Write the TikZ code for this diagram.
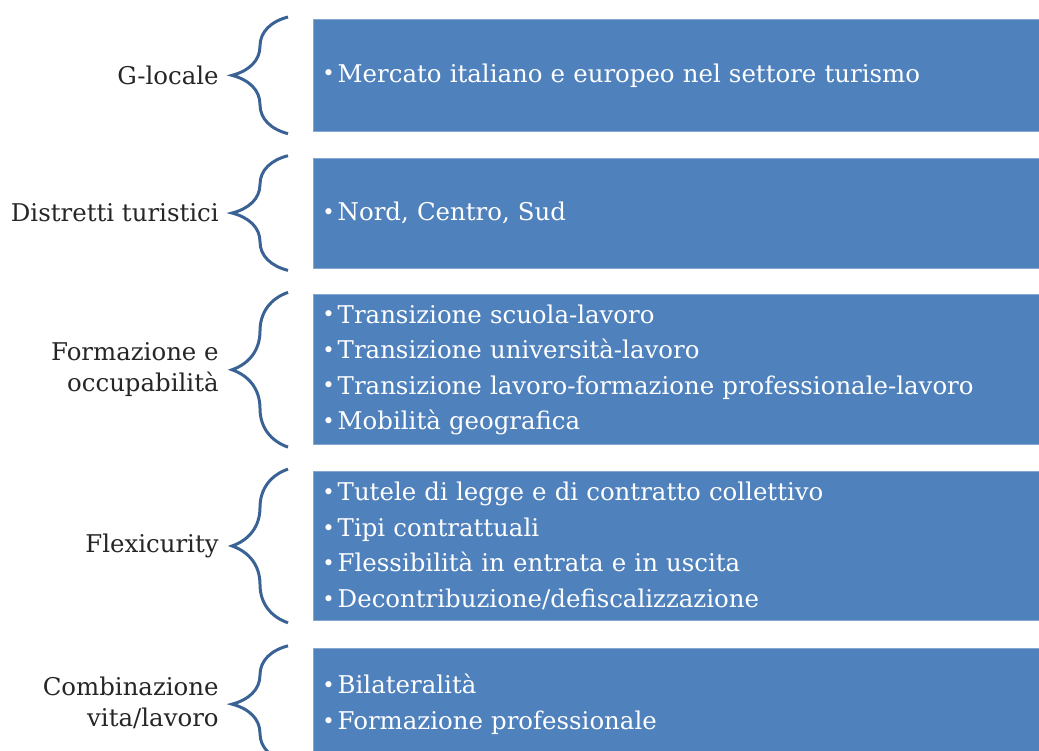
\documentclass[tikz,border=0pt]{standalone}
\usepackage{fontspec}
\setmainfont{DejaVu Serif}
\usetikzlibrary{positioning,decorations.pathreplacing}
\definecolor{azzurro}{RGB}{79,129,189}
\definecolor{graffablu}{RGB}{58,98,148}
\tikzset{
    Riquadro/.style={rectangle, fill=azzurro, draw=azzurro!70!white, thin, minimum width=14.9cm, text width=14.54cm, inner xsep=0.18cm, align=left, text=white, font=\fontsize{13.9}{20.2}\selectfont},
    Etichetta/.style={anchor=east, align=right, inner sep=0pt, text=black!85, font=\fontsize{13.9}{17.6}\selectfont},
    Graffa/.style={draw=graffablu, line width=1.7pt, decorate, decoration={brace, amplitude=1.12cm}}
    }
\newcommand{\Punto}{{\fontsize{12}{12}\selectfont\raisebox{0.1ex}{•}}\hspace{0.12em}}

\begin{document}
\begin{tikzpicture}

\useasboundingbox (0,0) rectangle (20.78,-15.02);
\clip (0,0) rectangle (20.78,-15.02);

\node[Riquadro, minimum height=2.24cm, anchor=north west] (Box1) at (6.26,-0.38) {\Punto Mercato italiano e europeo nel settore turismo};
\node[Riquadro, minimum height=2.2cm, below=0.52cm of Box1] (Box2) {\Punto Nord, Centro, Sud};
\node[Riquadro, minimum height=3cm, below=0.52cm of Box2] (Box3) {\Punto Transizione scuola-lavoro\\ \Punto Transizione università-lavoro\\ \Punto Transizione lavoro-formazione professionale-lavoro\\ \Punto Mobilità geografica};
\node[Riquadro, minimum height=2.98cm, below=0.52cm of Box3] (Box4) {\Punto Tutele di legge e di contratto collettivo\\ \Punto Tipi contrattuali\\ \Punto Flessibilità in entrata e in uscita\\ \Punto Decontribuzione/defiscalizzazione};
\node[Riquadro, minimum height=2.24cm, below=0.54cm of Box4] (Box5) {\Punto Bilateralità\\ \Punto Formazione professionale};

\foreach \i in {1,...,5}
    \draw[Graffa] ([xshift=-0.5cm,yshift=-0.04cm]Box\i.south west) -- ([xshift=-0.5cm,yshift=0.04cm]Box\i.north west);

\node[Etichetta] (Lab1) at ([xshift=-1.88cm]Box1.west) {G-locale};
\node[Etichetta] (Lab2) at ([xshift=-1.88cm]Box2.west) {Distretti turistici};
\node[Etichetta] (Lab3) at ([xshift=-1.88cm]Box3.west) {Formazione e\\ occupabilità};
\node[Etichetta] (Lab4) at ([xshift=-1.88cm]Box4.west) {Flexicurity};
\node[Etichetta] (Lab5) at ([xshift=-1.88cm,yshift=0.02cm]Box5.west) {Combinazione\\ vita/lavoro};

\end{tikzpicture}
\end{document}
